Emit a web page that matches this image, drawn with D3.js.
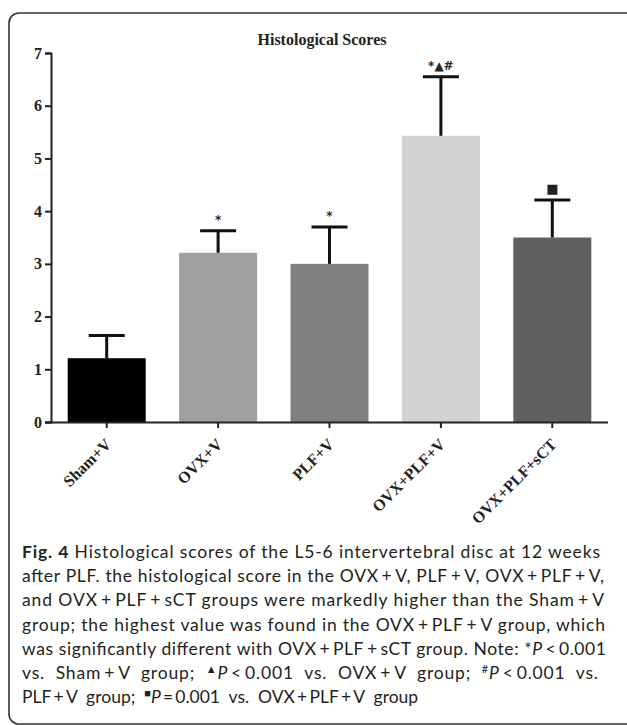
<!DOCTYPE html>
<html>
<head>
<meta charset="utf-8">
<script src="https://cdn.jsdelivr.net/npm/d3@7"></script>
<style>
  body { margin: 0; background: #fff; }
  svg { display: block; }
  .axis path, .axis line { stroke: #222; stroke-width: 2px; }
  .axis text { font-family: "Liberation Serif", serif; font-weight: bold; font-size: 16px; fill: #222; }
  .xaxis text { font-size: 16px; }
  .caption { font-family: Lato, sans-serif; font-size: 17.5px; fill: #231f20; }
</style>
</head>
<body>
<svg id="chart"></svg>
<script>
var groups = ["Sham+V", "OVX+V", "PLF+V", "OVX+PLF+V", "OVX+PLF+sCT"];
var scores = [1.21, 3.21, 3.0, 5.43, 3.5];
var errors = [0.43, 0.42, 0.7, 1.12, 0.71];
var marks = ["", "*", "*", "*\u25B2#", "\u25A0"];
var colors = ["#000000", "#a0a0a0", "#7f7f7f", "#d3d3d3", "#606060"];
var yTicks = [0, 1, 2, 3, 4, 5, 6, 7];

var W = 627, H = 725;
var svg = d3.select("#chart").attr("width", W).attr("height", H);

// outer frame
svg.append("rect")
    .attr("x", 9).attr("y", 13)
    .attr("width", W + 20).attr("height", H - 14)
    .attr("rx", 10).attr("ry", 10)
    .attr("fill", "none").attr("stroke", "#333").attr("stroke-width", 1.6);

var x = d3.scaleBand().domain(groups).range([51, 608]).paddingInner(0.3).paddingOuter(0.15);
var y = d3.scaleLinear().domain([0, 7]).range([422, 53]);

svg.append("text")
    .attr("x", 322).attr("y", 45)
    .attr("text-anchor", "middle")
    .style("font-family", "Liberation Serif, serif")
    .style("font-weight", "bold")
    .style("font-size", "16px")
    .style("fill", "#222")
    .text("Histological Scores");

// bars
svg.selectAll("rect.bar").data(groups).enter().append("rect")
    .attr("class", "bar")
    .attr("x", function (d) { return x(d); })
    .attr("width", x.bandwidth())
    .attr("y", function (d, i) { return y(scores[i]); })
    .attr("height", function (d, i) { return y(0) - y(scores[i]); })
    .attr("fill", function (d, i) { return colors[i]; });

// error bars
var eb = svg.selectAll("g.err").data(groups).enter().append("g").attr("class", "err");
eb.append("line")
    .attr("x1", function (d) { return x(d) + x.bandwidth() / 2; })
    .attr("x2", function (d) { return x(d) + x.bandwidth() / 2; })
    .attr("y1", function (d, i) { return y(scores[i]); })
    .attr("y2", function (d, i) { return y(scores[i] + errors[i]); })
    .attr("stroke", "#111").attr("stroke-width", 3);
eb.append("line")
    .attr("x1", function (d) { return x(d) + x.bandwidth() / 2 - 18; })
    .attr("x2", function (d) { return x(d) + x.bandwidth() / 2 + 18; })
    .attr("y1", function (d, i) { return y(scores[i] + errors[i]); })
    .attr("y2", function (d, i) { return y(scores[i] + errors[i]); })
    .attr("stroke", "#111").attr("stroke-width", 3);
eb.append("text")
    .attr("x", function (d) { return x(d) + x.bandwidth() / 2; })
    .attr("y", function (d, i) { return y(scores[i] + errors[i]) - 7; })
    .attr("text-anchor", "middle")
    .style("font-family", "DejaVu Sans, sans-serif")
    .style("font-weight", "bold")
    .style("font-size", function (d, i) { return i === 4 ? "13px" : "12px"; })
    .style("fill", "#222")
    .text(function (d, i) { return marks[i]; });

// axes
var yAxis = d3.axisLeft(y).tickValues(yTicks).tickSize(6).tickPadding(3).tickFormat(d3.format("d"));
svg.append("g").attr("class", "axis").attr("transform", "translate(51,0)").call(yAxis);

var xAxis = d3.axisBottom(x).tickSize(6).tickSizeOuter(0);
var gx = svg.append("g").attr("class", "axis xaxis").attr("transform", "translate(0,422)").call(xAxis);
gx.select(".domain").attr("d", "M45,0.5H608");
gx.selectAll("text")
    .attr("text-anchor", "end")
    .attr("dx", 0).attr("dy", 0)
    .attr("transform", "translate(-1,17) rotate(-45)");

// caption
var lines = [
    [{t: "Fig. 4", b: true}, {t: " Histological scores of the L5-6 intervertebral disc at 12 weeks"}],
    [{t: "after PLF. the histological score in the OVX\u2009+\u2009V, PLF\u2009+\u2009V, OVX\u2009+\u2009PLF\u2009+\u2009V,"}],
    [{t: "and OVX\u2009+\u2009PLF\u2009+\u2009sCT groups were markedly higher than the Sham\u2009+\u2009V"}],
    [{t: "group; the highest value was found in the OVX\u2009+\u2009PLF\u2009+\u2009V group, which"}],
    [{t: "was significantly different with OVX\u2009+\u2009PLF\u2009+\u2009sCT group. Note: *"}, {t: "P", i: true}, {t: "\u2009<\u20090.001"}],
    [{t: "vs.  Sham\u2009+\u2009V  group;  "}, {t: "\u25B2", s: true}, {t: "P", i: true}, {t: "\u2009<\u20090.001  vs.  OVX\u2009+\u2009V  group;  "}, {t: "#", s: true}, {t: "P", i: true}, {t: "\u2009<\u20090.001  vs."}],
    [{t: "PLF\u2009+\u2009V  group;  "}, {t: "\u25A0", s: true}, {t: "P", i: true}, {t: "\u2009=\u20090.001  vs.  OVX\u2009+\u2009PLF\u2009+\u2009V  group"}]
];
var lineEnds = [600, 604, 604, 605, 606, 598, 0];

lines.forEach(function (parts, li) {
    var t = svg.append("text").attr("class", "caption")
        .attr("x", 22).attr("y", 558 + li * 24.2)
        .attr("xml:space", "preserve")
        .style("white-space", "pre");
    if (lineEnds[li]) t.attr("textLength", lineEnds[li] - 22).attr("lengthAdjust", "spacing");
    parts.forEach(function (p) {
        var s = t.append("tspan").text(p.t);
        if (p.b) s.style("font-weight", "bold");
        if (p.i) s.style("font-style", "italic");
        if (p.s) s.style("font-size", "11px").attr("baseline-shift", "6");
    });
});
</script>
</body>
</html>
